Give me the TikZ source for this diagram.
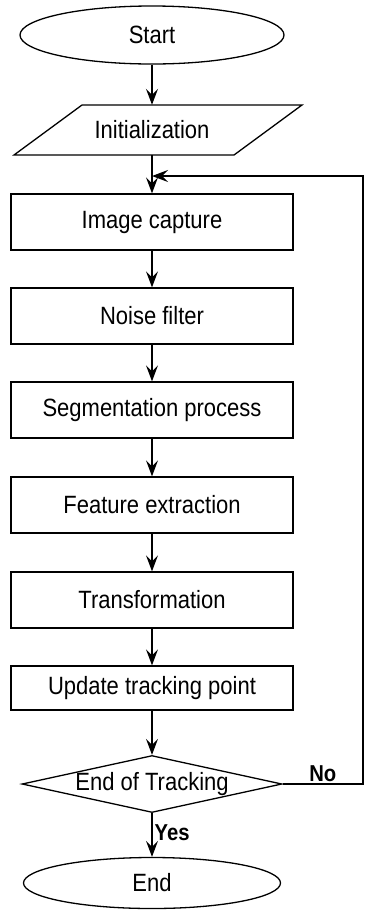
\documentclass[tikz,border=0pt]{standalone}
\usepackage{fontspec}
\setmainfont{Liberation Sans}[FakeStretch=0.88]
\usetikzlibrary{shapes.geometric,arrows.meta}
\begin{document}
\begin{tikzpicture}[x=1pt,y=-1pt,
  every node/.style={font=\fontsize{25}{28}\selectfont},
  lw/.style={line width=1.3pt},
  procbox/.style={draw,lw,rectangle,minimum width=282pt,minimum height=56pt,inner sep=0pt},
  term/.style={draw,lw,ellipse,inner sep=0pt},
  decision/.style={draw,lw,diamond,inner sep=0pt,minimum width=260pt,minimum height=57pt},
  arr/.style={lw,-{Stealth[length=16pt,width=12pt,inset=6pt]}},
  lbl/.style={font=\fontsize{23}{26}\selectfont\bfseries,inner sep=2pt}]
\useasboundingbox (0,0) rectangle (365,914);
% nodes
\node[term,minimum width=264pt,minimum height=58pt] (start) at (152,35) {Start};
\node[inner sep=0pt,minimum width=200pt,minimum height=50pt] (init) at (152,130) {Initialization};
\draw[lw] (82,105) -- (302,105) -- (234,155) -- (14,155) -- cycle;
\node[procbox] (img) at (152,222) {Image capture};
\node[procbox] (noise) at (152,316) {Noise filter};
\node[procbox] (seg) at (152,410) {Segmentation process};
\node[procbox] (feat) at (152,505) {Feature extraction};
\node[procbox] (trans) at (152,600) {Transformation};
\node[procbox,minimum height=44pt] (upd) at (152,688) {Update tracking point};
\node[decision] (dec) at (152,784) {\makebox[0pt]{End of Tracking}};
\node[term,minimum width=257pt,minimum height=51pt] (endn) at (152,883) {End};
\coordinate (fb) at (152,176);
\coordinate (rx) at (363,176);
% connectors
\draw[arr] (start.south) -- (init.north);
\draw[arr] (init.south) -- (img.north);
\draw[arr] (img.south) -- (noise.north);
\draw[arr] (noise.south) -- (seg.north);
\draw[arr] (seg.south) -- (feat.north);
\draw[arr] (feat.south) -- (trans.north);
\draw[arr] (trans.south) -- (upd.north);
\draw[arr] (upd.south) -- (dec.north);
\draw[arr] (dec.south) -- node[lbl,right,pos=0.45]{Yes} (endn.north);
\draw[arr] (dec.east) -- node[lbl,above]{No} (dec.east -| rx) -- (rx) -- (fb);
\end{tikzpicture}
\end{document}
